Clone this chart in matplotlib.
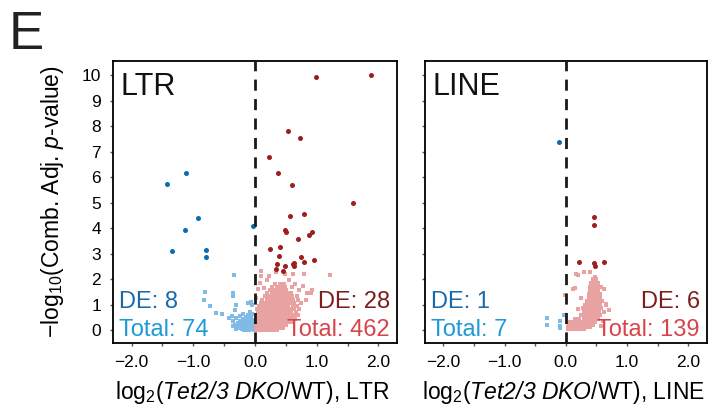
import matplotlib
matplotlib.use("Agg")
import matplotlib.pyplot as plt
import numpy as np

plt.rcParams['font.family'] = ['Liberation Sans', 'DejaVu Sans']
# mathtext: rm is the italic face (for "Tet2/3 DKO", digits included), sf the upright one
plt.rcParams['mathtext.fontset'] = 'custom'
plt.rcParams['mathtext.rm'] = 'Liberation Sans:italic'
plt.rcParams['mathtext.it'] = 'Liberation Sans:italic'
plt.rcParams['mathtext.sf'] = 'Liberation Sans'

# ---- LTR panel ----
ltr_up_de_x = [0.99, 1.88, 0.54, 0.73, 0.23, 0.37, 0.60, 1.59, 0.56, 0.80, 0.48, 0.51, 0.87, 0.93,
               0.69, 0.25, 0.41, 0.39, 0.74, 0.95, 0.36, 0.48, 0.61, 0.63, 0.79, 0.34, 0.45, 0.63]
ltr_up_de_y = [9.93, 10.02, 7.80, 7.55, 6.80, 6.18, 5.70, 4.98, 4.46, 4.56, 3.93, 3.83, 3.73, 3.83,
               3.57, 3.20, 3.25, 2.90, 2.85, 2.77, 2.59, 2.51, 2.61, 2.65, 2.69, 2.39, 2.31, 2.51]
ltr_dn_de_x = [-1.43, -1.12, -0.93, -1.14, -1.34, -0.80, -0.80, -0.03]
ltr_dn_de_y = [5.74, 6.18, 4.38, 3.92, 3.12, 3.15, 2.85, 4.09]
ltr_dn_x = [-0.34, -0.81, -0.83, -0.73, -0.63, -0.54, -0.36, -0.35, -0.31, -0.33, -0.42, -0.12, -0.04, -0.06,
            -0.38, -0.35, -0.33, -0.30, -0.28, -0.27, -0.25, -0.24, -0.22, -0.21, -0.20, -0.19, -0.18, -0.17,
            -0.16, -0.15, -0.14, -0.13, -0.12, -0.11, -0.10, -0.09, -0.08, -0.07, -0.06, -0.05, -0.04, -0.03,
            -0.02, -0.02, -0.01, -0.30, -0.36, -0.26, -0.08, -0.04, -0.18, -0.10, -0.01]
ltr_dn_y = [2.16, 1.48, 1.18, 0.94, 0.68, 0.63, 1.44, 1.33, 0.98, 0.81, 0.46, 1.07, 0.98, 1.10,
            0.55, 0.35, 0.20, 0.48, 0.30, 0.10, 0.55, 0.38, 0.22, 0.05, 0.62, 0.45, 0.30, 0.15,
            0.02, 0.52, 0.38, 0.25, 0.10, 0.60, 0.44, 0.30, 0.18, 0.05, 0.50, 0.36, 0.22, 0.12,
            0.02, 0.40, 0.28, 0.05, 0.15, 0.22, 0.70, 0.62, 0.00, 0.00, 0.15]
ltr_up_rows = {
    0.02: [0.02, 0.06, 0.10, 0.14, 0.18, 0.22, 0.26, 0.30, 0.35],
    0.10: [0.03, 0.08, 0.13, 0.18, 0.24, 0.29, 0.34, 0.40, 0.45],
    0.20: [0.02, 0.07, 0.12, 0.17, 0.22, 0.27, 0.33, 0.38, 0.44, 0.50],
    0.32: [0.04, 0.09, 0.15, 0.20, 0.26, 0.31, 0.37, 0.42, 0.48, 0.54, 0.60],
    0.45: [0.02, 0.07, 0.13, 0.19, 0.24, 0.30, 0.36, 0.41, 0.47, 0.53, 0.59, 0.65],
    0.58: [0.03, 0.09, 0.15, 0.21, 0.27, 0.33, 0.39, 0.45, 0.51, 0.57, 0.63, 0.69],
    0.70: [0.05, 0.11, 0.17, 0.23, 0.29, 0.35, 0.41, 0.47, 0.53, 0.59, 0.66],
    0.82: [0.04, 0.10, 0.16, 0.22, 0.28, 0.34, 0.40, 0.46, 0.52, 0.58, 0.64, 0.72],
    0.95: [0.06, 0.12, 0.18, 0.24, 0.30, 0.36, 0.42, 0.48, 0.54, 0.61, 0.68],
    1.08: [0.09, 0.15, 0.21, 0.27, 0.33, 0.39, 0.45, 0.51, 0.57, 0.64, 0.75],
    1.20: [0.12, 0.19, 0.25, 0.31, 0.37, 0.43, 0.49, 0.55, 0.62, 0.70, 0.82],
    1.33: [0.16, 0.23, 0.29, 0.35, 0.41, 0.47, 0.53, 0.60, 0.68],
    1.46: [0.20, 0.27, 0.33, 0.39, 0.45, 0.52, 0.58, 0.85],
    1.58: [0.24, 0.31, 0.37, 0.44, 0.50, 0.72, 0.92],
    1.70: [0.28, 0.35, 0.42, 0.48, 0.60],
    1.83: [0.33, 0.41, 0.47],
}
ltr_up_extra_x = [0.10, 0.09, 0.22, 0.34, 0.48, 0.61, 0.80, 1.21, 0.05, 0.08, 0.20, 0.55, 0.65, 0.78, 0.90, 0.15, 0.02]
ltr_up_extra_y = [2.33, 2.12, 2.14, 2.30, 2.22, 2.22, 2.20, 2.16, 1.60, 1.85, 1.95, 1.95, 1.80, 1.75, 1.45, 1.65, 1.25]

# ---- LINE panel ----
line_up_de_x = [0.46, 0.46, 0.22, 0.46, 0.62, 0.48]
line_up_de_y = [4.42, 4.12, 2.68, 2.65, 2.66, 2.51]
line_dn_de_x = [-0.12]
line_dn_de_y = [7.36]
line_dn_x = [-0.30, -0.30, -0.10, -0.10, -0.10, -0.03]
line_dn_y = [0.48, 0.22, 0.36, 0.16, 0.07, 0.61]
line_up_rows = {
    0.03: [0.04, 0.09, 0.14, 0.19, 0.25, 0.30],
    0.12: [0.03, 0.08, 0.13, 0.18, 0.23, 0.28, 0.34, 0.40],
    0.22: [0.05, 0.10, 0.16, 0.21, 0.27, 0.33, 0.39, 0.45],
    0.33: [0.07, 0.12, 0.18, 0.24, 0.30, 0.36, 0.42, 0.48],
    0.45: [0.15, 0.22, 0.29, 0.35, 0.41, 0.47, 0.53],
    0.58: [0.25, 0.31, 0.37, 0.43, 0.49, 0.55],
    0.72: [0.30, 0.36, 0.42, 0.48, 0.54, 0.62],
    0.86: [0.28, 0.34, 0.40, 0.46, 0.52, 0.58],
    1.00: [0.32, 0.38, 0.44, 0.50, 0.56, 0.66],
    1.14: [0.35, 0.41, 0.47, 0.53, 0.59],
    1.28: [0.37, 0.43, 0.49, 0.55],
    1.42: [0.38, 0.44, 0.50, 0.56],
    1.56: [0.40, 0.46, 0.52],
    1.70: [0.39, 0.45, 0.51, 0.58],
    1.85: [0.41, 0.47, 0.53],
    2.00: [0.44, 0.50],
}
line_up_extra_x = [0.20, 0.39, 0.47, 0.15, 0.66, 0.70, -0.02, 0.25, 0.20, 0.62, 0.60, 0.58, 0.12, 0.16, 0.30]
line_up_extra_y = [2.16, 2.30, 2.10, 1.67, 1.03, 0.80, 1.37, 1.25, 0.85, 1.60, 0.35, 0.15, 1.63, 2.20, 2.29]

x_ticks = [-2.0, -1.5, -1.0, -0.5, 0.0, 0.5, 1.0, 1.5, 2.0]
x_ticklabels = ['\u22122.0', '', '\u22121.0', '', '0.0', '', '1.0', '', '2.0']
y_ticks = list(range(0, 11))

c_dn_light = '#80bbe6'
c_dn_dark = '#0a6db3'
c_up_light = '#e9a2a2'
c_up_dark = '#9c1e1e'


def rows_to_xy(rows, ex, ey):
    xs, ys = [], []
    for y, xl in rows.items():
        xs += xl
        ys += [y] * len(xl)
    return xs + ex, ys + ey


fig = plt.figure(figsize=(7.17, 4.09), dpi=100)
ax1 = fig.add_axes([0.1576, 0.1614, 0.396, 0.6895])
ax2 = fig.add_axes([0.5927, 0.1614, 0.393, 0.6895])

panels = [
    (ax1, 'LTR', ltr_dn_x, ltr_dn_y, ltr_dn_de_x, ltr_dn_de_y,
     rows_to_xy(ltr_up_rows, ltr_up_extra_x, ltr_up_extra_y), ltr_up_de_x, ltr_up_de_y, 8, 74, 28, 462),
    (ax2, 'LINE', line_dn_x, line_dn_y, line_dn_de_x, line_dn_de_y,
     rows_to_xy(line_up_rows, line_up_extra_x, line_up_extra_y), line_up_de_x, line_up_de_y, 1, 7, 6, 139),
]

for ax, name, dx, dy, ddx, ddy, (ux, uy), udx, udy, de_dn, tot_dn, de_up, tot_up in panels:
    ax.scatter(dx, dy, s=11, marker='s', color=c_dn_light, linewidths=0, zorder=2)
    ax.scatter(ux, uy, s=11, marker='s', color=c_up_light, linewidths=0, zorder=2)
    ax.scatter(ddx, ddy, s=13, marker='o', color=c_dn_dark, linewidths=0, zorder=3)
    ax.scatter(udx, udy, s=13, marker='o', color=c_up_dark, linewidths=0, zorder=3)
    ax.axvline(0, color='#1a1a1a', lw=2.0, linestyle=(0, (4, 3)), zorder=4)
    ax.set_xlim(-2.3, 2.3)
    ax.set_ylim(-0.5, 10.55)
    ax.set_xticks(x_ticks)
    ax.set_xticklabels(x_ticklabels)
    ax.set_yticks(y_ticks)
    ax.tick_params(direction='out', length=2.5, width=1, color='#555555', labelsize=12.5, pad=6)
    for sp in ax.spines.values():
        sp.set_linewidth(1.3)
    ax.text(0.026, 0.878, name, transform=ax.transAxes, fontsize=22, va='baseline', ha='left', color='#111111')
    ax.text(0.022, 0.125, 'DE: %d' % de_dn, transform=ax.transAxes, fontsize=17, color='#1a6aab', va='baseline')
    ax.text(0.022, 0.025, 'Total: %d' % tot_dn, transform=ax.transAxes, fontsize=17, color='#1e9ad6', va='baseline')
    ax.text(0.975, 0.125, 'DE: %d' % de_up, transform=ax.transAxes, fontsize=17, color='#7d1d1d', va='baseline', ha='right')
    ax.text(0.975, 0.025, 'Total: %d' % tot_up, transform=ax.transAxes, fontsize=17, color='#d8444a', va='baseline', ha='right')
    ax.set_xlabel(r'log$_\mathsf{2}$($\mathrm{Tet2/3\ DKO}$/WT), ' + name, fontsize=16.5)
    ax.xaxis.set_label_coords(0.49, -0.128)

ax2.set_yticklabels([])
ax1.set_ylabel('\u2212' + r'log$_\mathsf{10}$(Comb. Adj. $\mathrm{p}$-value)', fontsize=16.5)
ax1.yaxis.set_label_coords(-0.165, 0.5)

fig.text(0.0126, 0.8795, 'E', fontsize=38, va='baseline', ha='left', color='#222222')

fig.savefig('out.png', dpi=100)
